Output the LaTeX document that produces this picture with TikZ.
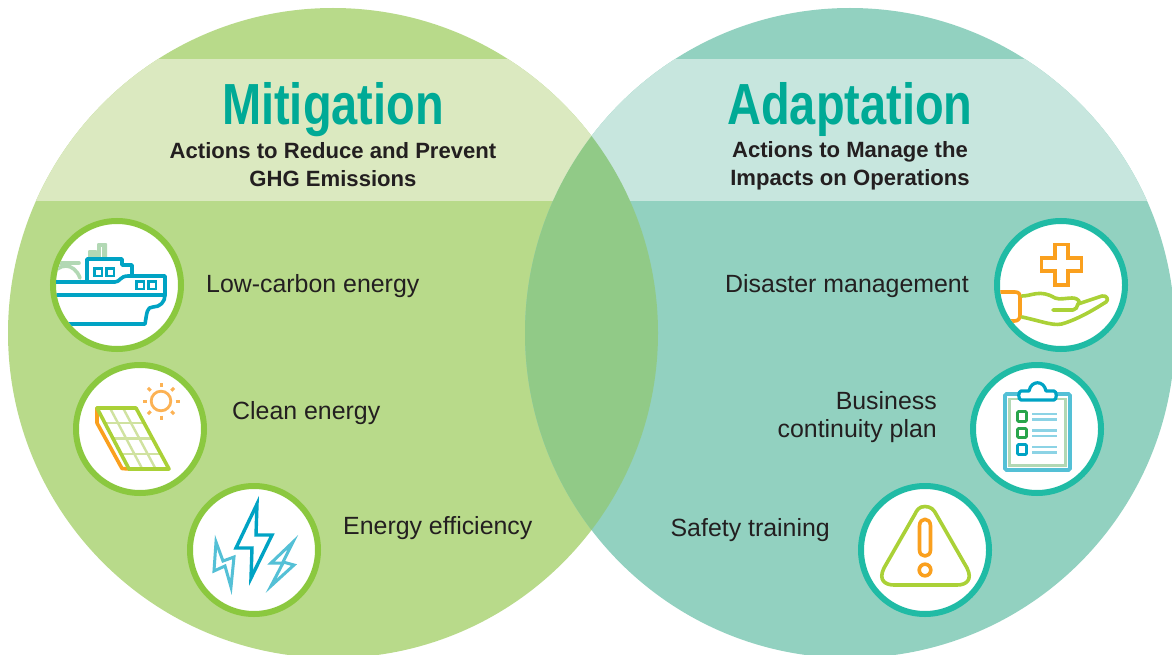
\documentclass[tikz,border=0pt]{standalone}
\usepackage{fontspec}
\setmainfont{Liberation Sans}
\newfontfamily\headfont[FakeStretch=0.81]{Liberation Sans Bold}
\usetikzlibrary{calc,positioning}
\definecolor{leafgreen}{RGB}{184,218,138}
\definecolor{leafpale}{RGB}{219,233,192}
\definecolor{seagreen}{RGB}{146,209,192}
\definecolor{seapale}{RGB}{199,230,222}
\definecolor{lensgreen}{RGB}{145,202,135}
\definecolor{ringgreen}{RGB}{139,200,63}
\definecolor{ringteal}{RGB}{32,187,165}
\definecolor{headteal}{RGB}{0,170,150}
\definecolor{inkblack}{RGB}{35,31,32}
\definecolor{shipblue}{RGB}{0,163,196}
\definecolor{skyblue}{RGB}{84,192,214}
\definecolor{paleblue}{RGB}{140,211,229}
\definecolor{mint}{RGB}{178,216,180}
\definecolor{iconorange}{RGB}{250,160,30}
\definecolor{sunorange}{RGB}{252,178,84}
\definecolor{limegreen}{RGB}{170,209,55}
\definecolor{palelime}{RGB}{208,226,160}
\definecolor{boxgreen}{RGB}{40,165,75}
\tikzstyle{head}=[text=headteal,font=\headfont\fontsize{58}{58}\selectfont,inner sep=0pt]
\tikzstyle{subhead}=[text=inkblack,font=\bfseries\fontsize{22.1}{28}\selectfont,align=center,inner sep=0pt]
\tikzstyle{item}=[text=inkblack,font=\fontsize{24.9}{28}\selectfont,inner sep=0pt]
\tikzstyle{ringL}=[circle,draw=ringgreen,line width=6pt,fill=white,minimum size=128pt,inner sep=0pt]
\tikzstyle{ringR}=[circle,draw=ringteal,line width=6pt,fill=white,minimum size=128pt,inner sep=0pt]
\tikzstyle{icon}=[line width=3.6pt,line join=round,line cap=round]

\begin{document}
\begin{tikzpicture}[x=1pt,y=-1pt]
    \useasboundingbox (0,0) rectangle (1172,655);
    \def\rad{325}
    \coordinate (mitC) at (333,333);
    \coordinate (adaC) at (850,333);
    % the two discs and their pale bands
    \begin{scope}
        \clip (0,0) rectangle (1172,655);
        \fill[leafgreen] (mitC) circle (\rad);
        \fill[seagreen] (adaC) circle (\rad);
        \begin{scope}
            \clip (mitC) circle (\rad);
            \fill[leafpale] (0,59) rectangle (1172,201);
        \end{scope}
        \begin{scope}
            \clip (adaC) circle (\rad);
            \fill[seapale] (0,59) rectangle (1172,201);
        \end{scope}
        \begin{scope}
            \clip (mitC) circle (\rad);
            \fill[lensgreen] (adaC) circle (\rad);
        \end{scope}
    \end{scope}

    \node[head] (mitTitle) at (333,110) {Mitigation};
    \node[head] (adaTitle) at (850,110) {Adaptation};
    \node[subhead,below=4.5pt of mitTitle] (mitSub) {Actions to Reduce and Prevent\\GHG Emissions};
    \node[subhead,below=4.5pt of adaTitle] (adaSub) {Actions to Manage the\\Impacts on Operations};

    \node[ringL] (ship) at (117,285) {};
    \node[ringL] (solar) at (140,429) {};
    \node[ringL] (bolts) at (254,550) {};
    \node[ringR] (hand) at (1061,285) {};
    \node[ringR] (clipboard) at (1037,429) {};
    \node[ringR] (warning) at (925,550) {};

    \node[item,anchor=west] (lowcarbon) at (206,286) {Low-carbon energy};
    \node[item,anchor=west] (clean) at (232,413) {Clean energy};
    \node[item,anchor=west] (efficiency) at (343,528) {Energy efficiency};
    \node[item,anchor=east] (disaster) at (969,286) {Disaster management};
    \node[item,align=right,anchor=east] (business) at (937,417) {Business\\continuity plan};
    \node[item,anchor=east] (safety) at (830,530) {Safety training};

    % ship
    \begin{scope}
        \clip (ship) circle (61);
        \draw[icon,mint] (50,278) .. controls (58,262) and (74,262) .. (80,278);
        \draw[icon,mint] (50,263) -- (79,263);
        \fill[mint,rounded corners=1pt] (88,250) rectangle (97,260);
        \fill[mint,rounded corners=1pt] (97,243) rectangle (107,260);
        \draw[white,line width=1.5pt] (101.5,247) -- (101.5,257);
        \draw[icon,shipblue] (87,282) -- (87,259) -- (122,259) -- (122,265) -- (132,265) -- (132,276) -- (165,276)
            -- (165,295) .. controls (165,302) and (160,307) .. (153,307) .. controls (147,307) and (147,312) .. (145,324) -- (68,324);
        \draw[icon,shipblue] (50,282) -- (115,282) .. controls (120,282) and (120,276) .. (128,276) -- (132,276);
        \draw[icon,shipblue] (50,295) -- (165,295);
        \foreach \px/\py in {98/272,110/272,140/285,152/285}
            \draw[shipblue,line width=2.6pt] (\px-3.8,\py-3.8) rectangle (\px+3.8,\py+3.8);
    \end{scope}

    % solar panel and sun
    \coordinate (panelA) at (97,408);
    \coordinate (panelB) at (136,408);
    \coordinate (panelC) at (169,469);
    \coordinate (panelD) at (129,469);
    \foreach \t in {0.333,0.667}
        \draw[palelime,line width=2.4pt] ($(panelA)!\t!(panelB)$) -- ($(panelD)!\t!(panelC)$);
    \foreach \t in {0.25,0.5,0.75}
        \draw[palelime,line width=2.4pt] ($(panelA)!\t!(panelD)$) -- ($(panelB)!\t!(panelC)$);
    \draw[icon,iconorange] (panelA) -- (97,423) -- (122,468.5) -- (panelD);
    \draw[icon,limegreen] (panelA) -- (panelB) -- (panelC) -- (panelD) -- cycle;
    \draw[sunorange,line width=2.8pt] (161,401) circle (9.8);
    \foreach \ang in {0,45,...,315}
        \draw[sunorange,line width=3pt] ($(161,401)+(\ang:14.5)$) -- ($(161,401)+(\ang:18.5)$);

    % lightning bolts
    \draw[shipblue,line width=3.4pt,line join=miter] (257,504) -- (236,548) -- (252,548) -- (251,578) -- (272,535) -- (256,535) -- cycle;
    \draw[skyblue,line width=3pt,line join=miter] (216,542) -- (214,571) -- (225,566) -- (231,587) -- (234,557) -- (223,561) -- cycle;
    \draw[skyblue,line width=3pt,line join=miter] (293,542) -- (271,563) -- (283,563) -- (271,586) -- (294,565) -- (283,562) -- cycle;

    % hand and cross
    \draw[icon,iconorange,line cap=butt,line join=miter] (1055,244.5) -- (1068,244.5) -- (1068,258) -- (1081.5,258) -- (1081.5,271) -- (1068,271) -- (1068,285) -- (1055,285) -- (1055,271) -- (1041.5,271) -- (1041.5,258) -- (1055,258) -- cycle;
    \begin{scope}
        \clip (hand) circle (61);
        \draw[icon,iconorange] (995,292) -- (1015,292) .. controls (1019,292) and (1020,294) .. (1020,298) -- (1020,315) .. controls (1020,319) and (1018,321) .. (1014,321) -- (995,321);
    \end{scope}
    \draw[icon,limegreen] (1022,296) .. controls (1032,296) and (1040,289) .. (1055,298) .. controls (1060,300) and (1066,298) .. (1072,298) .. controls (1079,298) and (1081,303) .. (1078,304) -- (1102,296) .. controls (1107,295) and (1109,300) .. (1106,302) .. controls (1095,309) and (1080,318) .. (1065,323) .. controls (1055,327) and (1045,322) .. (1022,317);
    \draw[icon,limegreen] (1053,310) -- (1073,310) .. controls (1076,310) and (1077,307) .. (1078,304);

    % clipboard
    \draw[skyblue,line width=3.6pt,rounded corners=1.5pt] (1005,394) rectangle (1070,470);
    \draw[mint,line width=2.8pt] (1009.5,399) rectangle (1065.5,465.5);
    \draw[icon,shipblue,fill=white,line width=3.2pt] (1021,391) -- (1029,391) .. controls (1031,380) and (1044,380) .. (1046,391) -- (1054,391) .. controls (1057,391) and (1057,400) .. (1054,400) -- (1021,400) .. controls (1018,400) and (1018,391) .. (1021,391) -- cycle;
    \draw[boxgreen,line width=2.8pt,rounded corners=1pt] (1017.5,411.5) rectangle (1026.5,421.5) (1017.5,428.5) rectangle (1026.5,437.5);
    \draw[shipblue,line width=2.8pt,rounded corners=1pt] (1017.5,444.5) rectangle (1026.5,454.5);
    \foreach \ly in {414,419.5,430.5,436,447,452.5}
        \draw[paleblue,line width=2.2pt] (1032,\ly) -- (1057,\ly);

    % warning sign
    \draw[icon,limegreen] (925,506.5) .. controls (931,506.5) and (934,510) .. (936,514) -- (967,568) .. controls (973,580) and (966,585) .. (957,585) -- (894,585) .. controls (885,585) and (878,580) .. (884,568) -- (915,514) .. controls (917,510) and (919,506.5) .. (925,506.5) -- cycle;
    \draw[icon,iconorange] (919.5,526) .. controls (919.5,517) and (930.5,517) .. (930.5,526) -- (930.5,550) .. controls (930.5,558) and (919.5,558) .. (919.5,550) -- cycle;
    \draw[iconorange,line width=3.6pt] (925,570) circle (5.8);
\end{tikzpicture}
\end{document}
